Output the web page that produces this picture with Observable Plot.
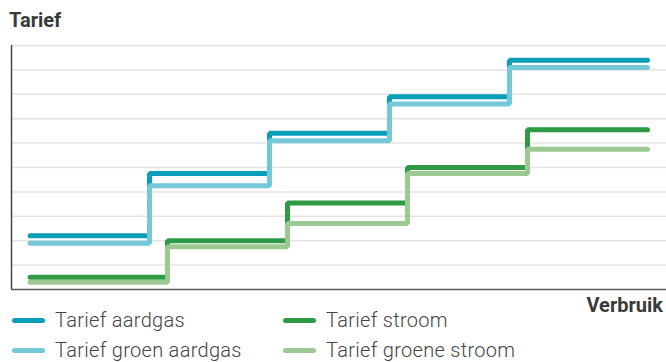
<!DOCTYPE html>
<html>
<head>
<meta charset="utf-8">
<script src="https://cdn.jsdelivr.net/npm/d3@7"></script>
<script src="https://cdn.jsdelivr.net/npm/@observablehq/plot@0.6"></script>
<style>
  html, body { margin: 0; padding: 0; background: #fff; }
  #wrap { position: relative; width: 666px; height: 362px; overflow: hidden; font-family: Roboto, "Noto Sans", sans-serif; }
  #title { position: absolute; left: 9px; top: 10px; font-size: 20px; line-height: 20px; font-weight: 700; color: #3a3a3a; }
  #chart { position: absolute; left: 0; top: 36px; }
  #xlabel { position: absolute; right: 3px; top: 295px; font-size: 20px; line-height: 20px; font-weight: 700; color: #3a3a3a; }
  #legend { position: absolute; left: 12px; top: 305px; display: grid; grid-template-columns: 271px 300px; }
  .item { display: flex; align-items: center; height: 30px; font-size: 20px; font-weight: 300; letter-spacing: 0.3px; color: #444; }
  .sw { width: 33px; height: 5px; border-radius: 3px; margin-right: 10px; flex: none; }
</style>
</head>
<body>
<div id="wrap">
  <div id="title"></div>
  <div id="chart"></div>
  <div id="xlabel"></div>
  <div id="legend"></div>
</div>
<script>
const titleText = "Tarief";
const xLabelText = "Verbruik";
const seriesNames = ["Tarief aardgas", "Tarief groen aardgas", "Tarief stroom", "Tarief groene stroom"];
const seriesColors = ["#0a9fb8", "#74c8d8", "#2e9a44", "#9cc992"];
const legendOrder = ["Tarief aardgas", "Tarief stroom", "Tarief groen aardgas", "Tarief groene stroom"];

// step positions along usage axis
const gasSteps = [3.1, 23, 43, 63, 83, 106];
const stroomSteps = [3.1, 26, 46, 66, 86, 106];

// tariff levels per block
const aardgas = [2.2, 4.75, 6.4, 7.9, 9.4];
const groenAardgas = [1.9, 4.25, 6.1, 7.6, 9.1];
const stroom = [0.5, 2.0, 3.55, 5.0, 6.55];
const groeneStroom = [0.3, 1.75, 2.7, 4.75, 5.75];

const gridValues = [1, 2, 3, 4, 5, 6, 7, 8, 9, 10];

function buildSeries(name, steps, vals) {
  const rows = vals.map((v, i) => ({ series: name, x: steps[i], y: v }));
  rows.push({ series: name, x: steps[steps.length - 1], y: vals[vals.length - 1] });
  return rows;
}

const data = [
  ...buildSeries(seriesNames[0], gasSteps, aardgas),
  ...buildSeries(seriesNames[1], gasSteps, groenAardgas),
  ...buildSeries(seriesNames[2], stroomSteps, stroom),
  ...buildSeries(seriesNames[3], stroomSteps, groeneStroom)
];

document.getElementById("title").textContent = titleText;
document.getElementById("xlabel").textContent = xLabelText;

const plot = Plot.plot({
  width: 666,
  height: 264,
  marginTop: 9,
  marginBottom: 11,
  marginLeft: 11,
  marginRight: 0,
  x: { domain: [0, 109.17], axis: null },
  y: { domain: [0, 10], axis: null },
  color: { domain: seriesNames, range: seriesColors },
  marks: [
    Plot.ruleY(gridValues, { stroke: "#e4e4e4", strokeWidth: 1.5 }),
    Plot.ruleY([0], { stroke: "#5a5a5a", strokeWidth: 1.5 }),
    Plot.ruleX([0], { stroke: "#444", strokeWidth: 1.5 }),
    Plot.line(data, {
      x: "x", y: "y", z: "series", stroke: "series",
      curve: "step-after", strokeWidth: 5,
      strokeLinecap: "round", strokeLinejoin: "miter"
    })
  ]
});
document.getElementById("chart").appendChild(plot);

const legend = document.getElementById("legend");
legendOrder.forEach(name => {
  const item = document.createElement("div");
  item.className = "item";
  const sw = document.createElement("span");
  sw.className = "sw";
  sw.style.background = seriesColors[seriesNames.indexOf(name)];
  const label = document.createElement("span");
  label.textContent = name;
  item.appendChild(sw);
  item.appendChild(label);
  legend.appendChild(item);
});
</script>
</body>
</html>
